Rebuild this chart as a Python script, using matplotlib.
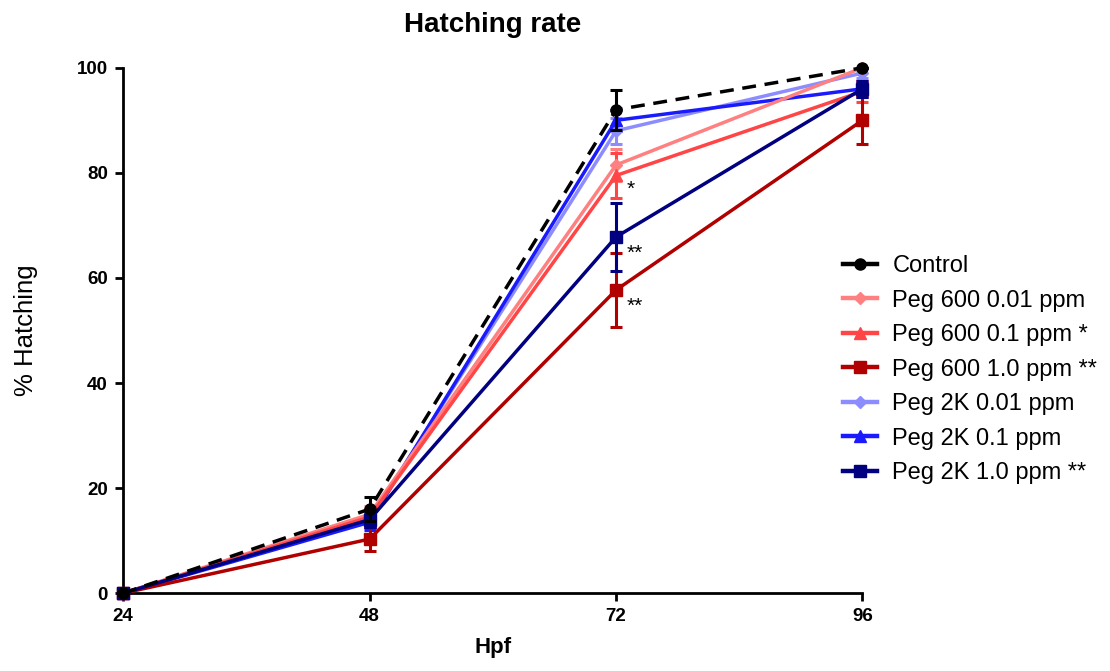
import matplotlib
matplotlib.use("Agg")
import matplotlib.pyplot as plt
from matplotlib.lines import Line2D

plt.rcParams['font.family'] = ['Liberation Sans', 'DejaVu Sans']

hpf = [24, 48, 72, 96]
labels = ["Control", "Peg 600 0.01 ppm", "Peg 600 0.1 ppm *", "Peg 600 1.0 ppm **",
          "Peg 2K 0.01 ppm", "Peg 2K 0.1 ppm", "Peg 2K 1.0 ppm **"]
control = [0, 16, 92, 100]
control_err = [0, 2.3, 3.8, 0]
peg600_001 = [0, 15, 81.5, 100]
peg600_001_err = [0, 1.5, 3.0, 0]
peg600_01 = [0, 14.5, 79.5, 95.5]
peg600_01_err = [0, 1.5, 4.3, 2.0]
peg600_10 = [0, 10.3, 57.7, 90]
peg600_10_err = [0, 2.3, 7.0, 4.6]
peg2k_001 = [0, 14, 88, 99]
peg2k_001_err = [0, 1.5, 2.5, 1.0]
peg2k_01 = [0, 13.5, 90, 96]
peg2k_01_err = [0, 1.5, 2.0, 1.5]
peg2k_10 = [0, 14, 67.8, 96]
peg2k_10_err = [0, 1.5, 6.5, 1.5]
stars = ["*", "**", "**"]
star_y = [75.8, 63.7, 53.6]

series = [control, peg600_001, peg600_01, peg600_10, peg2k_001, peg2k_01, peg2k_10]
errs = [control_err, peg600_001_err, peg600_01_err, peg600_10_err, peg2k_001_err, peg2k_01_err, peg2k_10_err]
colors = ["black", "#ff8080", "#ff4545", "#b00000", "#8c8cff", "#1a1aff", "#000080"]
markers = ["o", "D", "^", "s", "D", "^", "s"]
msizes = [8, 6, 8, 8, 6, 8, 8]
styles = ["--", "-", "-", "-", "-", "-", "-"]
zorders = [10, 4, 4, 4, 3, 3, 5]

fig = plt.figure(figsize=(11.1, 6.71), dpi=100)
ax = fig.add_axes([0.111, 0.116, 0.666, 0.783])

proxies = []
for y, e, n, c, m, ms, ls, z in zip(series, errs, labels, colors, markers, msizes, styles, zorders):
    kw = dict(dashes=(4, 2.5)) if ls == "--" else {}
    ax.errorbar(hpf, y, yerr=e, color=c, marker=m, markersize=ms, linestyle=ls,
                linewidth=2.5, capsize=4.5, capthick=2.2, elinewidth=2.2,
                clip_on=False, zorder=z, **kw)
    proxies.append(Line2D([], [], color=c, marker=m, markersize=ms, linewidth=3.2, linestyle="-"))

fig.legend(proxies, labels, loc="upper left", bbox_to_anchor=(843 / 1110, 1 - 255 / 671),
           bbox_transform=fig.transFigure, frameon=False, fontsize=17, handlelength=1.45,
           handletextpad=0.64, labelspacing=0.53, borderpad=0, borderaxespad=0)

for s, yy in zip(stars, star_y):
    ax.text(73.0, yy, s, fontsize=15, va="baseline", ha="left", zorder=12)

ax.set_xlim(24, 96)
ax.set_ylim(0, 100)
ax.set_xticks(hpf)
ax.set_yticks([0, 20, 40, 60, 80, 100])
for s in ["top", "right"]:
    ax.spines[s].set_visible(False)
for s in ["left", "bottom"]:
    ax.spines[s].set_linewidth(2)
ax.tick_params(width=2, length=6, labelsize=13.5, pad=5)
for t in ax.get_xticklabels() + ax.get_yticklabels():
    t.set_fontweight("bold")
ax.set_xlabel("Hpf", fontsize=16, fontweight="bold", labelpad=8)
ax.set_ylabel("% Hatching", fontsize=18.5, labelpad=28)
ax.set_title("Hatching rate", fontsize=20, fontweight="bold", pad=26)

fig.savefig("out.png", dpi=100)
